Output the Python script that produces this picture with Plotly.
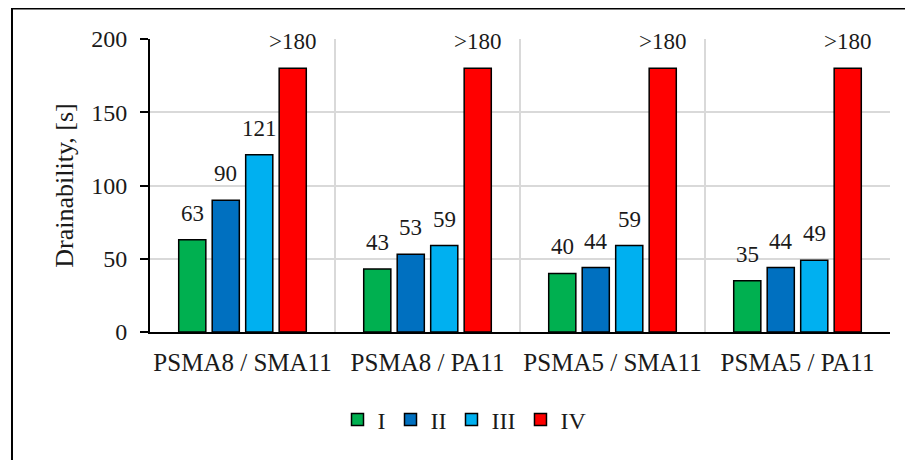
import plotly.graph_objects as go

categories = ["PSMA8 / SMA11", "PSMA8 / PA11", "PSMA5 / SMA11", "PSMA5 / PA11"]
series_names = ["I", "II", "III", "IV"]
values_I = [63, 43, 40, 35]
values_II = [90, 53, 44, 44]
values_III = [121, 59, 59, 49]
values_IV = [180, 180, 180, 180]
labels_I = ["63", "43", "40", "35"]
labels_II = ["90", "53", "44", "44"]
labels_III = ["121", "59", "59", "49"]
labels_IV = [">180", ">180", ">180", ">180"]
colors = ["#00B050", "#0070C0", "#00B0F0", "#FF0000"]
y_ticks = [0, 50, 100, 150, 200]

FONT = "Liberation Serif"
TXT = "#1a1a1a"
BARGAP = 0.276
BARGROUPGAP = 0.19
LABEL_SHIFT = 12

fig = go.Figure()
all_vals = [values_I, values_II, values_III, values_IV]
all_labels = [labels_I, labels_II, labels_III, labels_IV]
n_series = len(series_names)
slot = (1 - BARGAP) / n_series
annotations = []
for i, (name, vals, labs, col) in enumerate(zip(series_names, all_vals, all_labels, colors)):
    fig.add_trace(go.Bar(
        x=categories, y=vals, name=name,
        marker=dict(color=col, line=dict(color="black", width=1.5)),
    ))
    offset = (i - (n_series - 1) / 2) * slot
    for j, (v, lab) in enumerate(zip(vals, labs)):
        annotations.append(dict(
            x=j + offset, y=v, xref="x", yref="y", text=lab, showarrow=False,
            xanchor="center", yanchor="bottom", yshift=LABEL_SHIFT,
            font=dict(family=FONT, size=23, color=TXT),
        ))

fig.update_layout(
    width=905, height=452,
    margin=dict(l=142, r=23, t=31, b=128, autoexpand=False),
    paper_bgcolor="white", plot_bgcolor="white",
    barmode="group", bargap=BARGAP, bargroupgap=BARGROUPGAP,
    font=dict(family=FONT, size=23, color=TXT),
    showlegend=True,
    legend=dict(orientation="h", x=0.425, xanchor="center", y=-0.30, yanchor="middle",
                font=dict(family=FONT, size=24, color=TXT), itemwidth=30,
                traceorder="normal"),
    xaxis=dict(type="category", range=[-0.5, 3.5], showgrid=True, gridcolor="#d9d9d9",
               gridwidth=1.5, tickson="boundaries", ticks="", showline=True,
               linecolor="black", linewidth=2, tickfont=dict(family=FONT, size=25),
               tickangle=0, ticklabelstandoff=7, automargin=False),
    yaxis=dict(range=[0, 200], tickvals=y_ticks, showgrid=True, gridcolor="#d9d9d9",
               gridwidth=1.5, ticks="outside", ticklen=8, tickwidth=2, tickcolor="black",
               showline=True, linecolor="black", linewidth=2, zeroline=False,
               tickfont=dict(family=FONT, size=24), ticklabelstandoff=8, automargin=False,
               title=dict(text="Drainability, [s]", font=dict(family=FONT, size=26), standoff=10)),
    annotations=annotations,
    shapes=[dict(type="rect", xref="paper", yref="paper",
                 x0=-0.1865, x1=1.2, y0=-0.6, y1=1.104,
                 line=dict(color="black", width=2), layer="above")],
)

fig.write_html("out.html")
